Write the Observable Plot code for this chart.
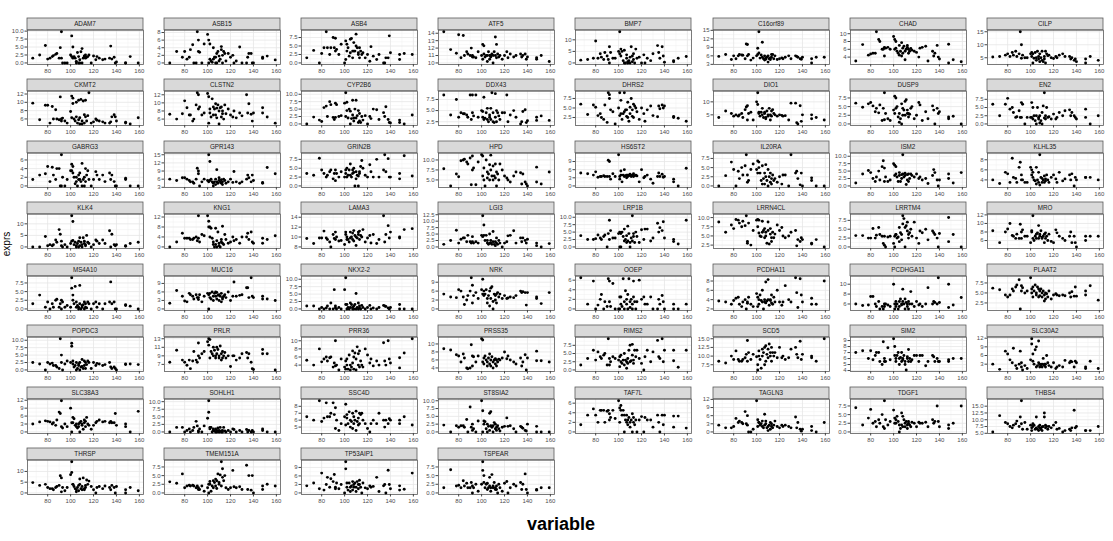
<!DOCTYPE html>
<html><head><meta charset="utf-8">
<script src="https://cdn.jsdelivr.net/npm/d3@7"></script>
<script src="https://cdn.jsdelivr.net/npm/@observablehq/plot@0.6"></script>
<style>
body{margin:0;background:#fff;}
#chart{position:relative;width:1113px;height:541px;overflow:hidden;font-family:"Liberation Sans",Arial,sans-serif;background:#fff;}
#ylab{position:absolute;left:6px;top:244px;transform:translate(-50%,-50%) rotate(-90deg);font-size:10px;color:#000;white-space:nowrap;}
#xlab{position:absolute;left:561px;top:524px;transform:translate(-50%,-50%);font-size:18px;font-weight:bold;color:#000;white-space:nowrap;}
</style></head><body>
<div id="chart"><div id="ylab">exprs</div><div id="xlab">variable</div></div>
<script>
const genes = ["ADAM7","ASB15","ASB4","ATF5","BMP7","C16orf89","CHAD","CILP",
"CKMT2","CLSTN2","CYP2B6","DDX43","DHRS2","DIO1","DUSP9","EN2",
"GABRG3","GPR143","GRIN2B","HPD","HS6ST2","IL20RA","ISM2","KLHL35",
"KLK4","KNG1","LAMA3","LGI3","LRP1B","LRRN4CL","LRRTM4","MRO",
"MS4A10","MUC16","NKX2-2","NRK","OOEP","PCDHA11","PCDHGA11","PLAAT2",
"POPDC3","PRLR","PRR36","PRSS35","RIMS2","SCD5","SIM2","SLC30A2",
"SLC38A3","SOHLH1","SSC4D","ST8SIA2","TAF7L","TAGLN3","TDGF1","THBS4",
"THRSP","TMEM151A","TP53AIP1","TSPEAR"];

const xs = [67,73,78,80,82, 84,85,87,88,90, 91,92,92,93,95, 97,100,101,101,102, 102,103,104,105,105, 106,107,107,108,108, 109,110,110,111,112, 112,113,113,114,115, 116,118,120,122,123, 125,128,130,134,135, 136,138,139,140,148, 148,152,159];

const exprs = [
[1.5,2.5,5.5,1.2,1.5, 2,2.3,2.7,3,1.5, 4.8,9.8,1.5,0,0, 0,2.5,8.5,2,1.5, 5,2,1.5,0.5,0, 3.3,0,2,1,0, 3.5,4.5,0,1.5,2, 2.2,1.5,2.5,1.8,2, 2.5,0,2.2,1,2, 1.5,1,1.2,1.5,5.3, 1.2,1.8,0,0.3,0, 0,2,0],
[0,3,1.5,3,1, 1.5,3.5,4.8,0,0, 8.2,3,6,2.8,0, 5,7.5,6,0,1, 5,0.5,0.2,4,1, 1.5,0,1.5,2.5,0, 3,1.8,0.5,1,3.5, 4.3,2,0,3,2.5, 0.5,2.5,1.5,2,0, 0.5,4.2,0,0,1.5, 2.5,2.5,0,0,1.2, 1.5,1.8,0.8],
[1.5,3.7,0,2.8,4.5, 9.2,4.5,2.5,4.5,7.5, 4.5,7.3,3.5,4,2.5, 5.5,0,6.5,1,3.5, 5.5,4.5,2,7,3, 7.2,1.5,3.5,3.5,6, 3.5,8.5,5,4.5,2.5, 3,4.5,1.5,3.5,2.5, 3,1.5,2.5,0.5,4.8, 2,1,2.5,0,0, 1.5,1.5,8,3,1, 2.5,2.8,2.5],
[14.2,11.8,11.3,13.8,10.7, 13.7,11,11.5,11.2,11, 12,10.8,11,10.8,10.7, 11.5,11,12.5,10.5,12.3, 11.2,10.8,11,11,10.2, 11.5,11,10.5,11,10.8, 11.2,11,10,11.5,13.5, 11,10.7,12.5,11.2,10.8, 11,10.5,11,11.5,10.7, 11.2,10.8,11,11.2,10.8, 11,11.2,10.5,10.8,10.7, 10.5,11,10.2],
[1.2,1.5,2,9.5,2, 4,2.5,1.5,4.5,3, 1.5,7,0,4.5,2, 2,5,13.5,4,6, 3,5,1,5.5,0, 0,2,3.5,0.5,0, 1,2.5,0,7,0.5, 3,1.5,4,0,6, 2,2.5,0,3.5,0, 2,1,4,7.5,4.5, 2,7,3,0.3,0.5, 1,2,2.8],
[5.8,6.5,4.7,6,5, 6,6.5,6.3,6.2,5, 10.2,10,6,6.5,4.5, 5.2,6,8.7,6.5,14.5, 7,5.2,6.3,10.8,5.5, 5,6,4.5,5.2,4.8, 5.5,3.8,6,5,5.3, 4.7,6.5,5.5,6.5,5, 6,4.7,5,5.3,5, 5.5,6,5,6,5.8, 5.5,5,4.8,5.5,3.5, 5,5.5,5.5],
[3,7.2,4.5,4.8,5, 5,10.5,8.5,8,6, 6,6.5,4.3,6.3,6.5, 6,9.3,8.5,6,8, 6.3,5.5,5,7,4.5, 5.5,7.7,4.3,6.3,5, 6.8,3.3,5.5,6,7, 6.5,5,6,5.5,6.2, 5.8,5.5,5.2,4,6.3, 6.5,6.8,3,5.5,4.3, 5,7,4,3.5,7.3, 2.5,3.3,2.8],
[5.3,5.5,6,6.5,5.5, 7,6,7.5,5.5,6.5, 15,10,4.8,6,5, 5,6.5,5.5,7,3, 6.5,4.8,7,5,4, 7.5,4.5,5.5,3.5,6.5, 5,4,7.5,3.5,4.5, 5.5,3,7.5,6.5,5.8, 6,5,4.7,5.5,5, 6,6.5,5.5,5.5,4.5, 5,4,4.5,3.5,4.5, 3,5.5,4],
[9.8,5.8,9.3,9.3,5, 9,6,8.2,6,5.8, 11.3,6,5.5,6.2,5.5, 5,7.8,11.5,6.3,9.7, 11,6,5.5,10,6.5, 5,10.5,5.8,4.8,6.3, 10.7,5.5,4.8,10.3,5, 7,10.5,6.5,5.5,6.8, 12.3,5,5.3,6,5.7, 5.5,5.3,5,5,5.3, 6.5,7,6.5,5.5,5.2, 5,4.8,6.3],
[7.2,6,7.3,10.5,8.8, 7,7,5.5,6,9.5, 12.5,12,8.5,9,7, 7.5,12.3,11.5,5,8.5, 7.5,6.5,11,7,9, 8.5,9.8,7,6.3,8.7, 9.5,8,4.8,8.8,9, 6.5,8,7.3,6,9.5, 7.3,8.5,7,6.5,8, 6.3,7.5,6.8,12,7.5, 9.8,7.2,5.5,7.5,8.8, 7.5,6.5,5],
[0,2.3,1.3,0.8,5.5, 6,2.5,7.5,6.5,2.2, 1.5,7,2.2,6.5,2.5, 2.8,7,10.5,2.5,7.3, 4.5,2,5,4.3,0, 1.8,8,3,1,2, 5,8,2,2.8,0.5, 4.5,1,3.5,0.5,2.5, 1.3,2.8,0,2.5,1.8, 5,4.8,1.5,3.8,2.5, 5.8,1.5,0.5,0.3,1.3, 0.5,0,3],
[8.5,4,7.5,3.5,4.5, 4.3,4.3,4,3.5,8.5, 3,8.5,4.5,3.8,8.5, 3.5,5,3.5,4.8,3, 8,3.3,4.5,3,5.5, 2.5,4,3.5,3,5.5, 9,2.5,4.5,2.3,8.8, 3.5,5,2.5,4.5,3.8, 3,4.5,4.5,8.5,2.5, 4,5,3.5,2,2.5, 4.8,5.2,2.3,2.7,2.8, 3.5,3.8,2.8],
[6,3.3,5.8,5.2,3, 3.5,2.5,2,5.8,1.2, 9,8.5,7.5,4.5,4, 0.8,5,9,3,7, 3.5,2,3.5,9,4, 4.5,2.8,4.5,2.5,6.5, 1.5,5.2,3.5,7.5,2.8, 4.5,6,2.5,5.5,5, 4,2,5,3.5,1.5, 4.5,5.5,3,2.7,5.5, 4.8,5.8,5,5.5,2.8, 2.5,2.3,1.5],
[4,6.5,5.5,4.5,5, 4.5,5,5.5,4,7, 8,3,8.5,5.5,6, 3,10,13.5,9,6, 5.5,4.5,6,7.5,5, 4,6,5.5,4,3.5, 6.5,5,4.5,7.5,5, 3,6.5,4.5,7,5.5, 5,4.5,5,4.8,4.5, 4.7,3,9.5,9.5,2, 1.5,8.5,2.5,5,3.5, 5,4,3],
[6,4.8,5.8,6.2,5.2, 3.5,4.5,3.2,5.5,1, 4.5,9,1.2,3,1.5, 1,4,8,3,7.5, 4.5,5,2,3,0.5, 1.5,5.8,0,4.5,2.5, 4,6.5,2.5,7,3, 4,3,2,2.8,4.5, 5,1.5,2.5,6.2,5.5, 1,3.5,1.5,5.2,4, 0,4.5,3,3.5,1.5, 2,2.2,0],
[6,2.5,6,7.8,4.5, 5,3.5,2,2.2,4, 2,6.5,2,6,0, 2,2,6.5,2,5, 1.5,2.5,1,0,2.5, 5,1.5,2,0.3,2.5, 1,3.5,0,5.5,1.8, 9.5,2.5,1.5,5,2, 2.2,1.5,3,1.5,2, 3.5,2.5,4,4.3,2.5, 3.5,2.5,2,1.5,4.5, 2,0,2.5],
[1.5,2.5,2.8,4.5,1, 4.3,2.5,1.5,4,4, 0,7.2,0,2,0, 1.5,3.5,5,3.5,4.5, 3,2,0.5,1,2, 0,1.5,2.5,1.5,3, 1,5.2,0,1.5,2, 0,1,4,2.5,3.5, 1.5,0,1.5,3.3,2.5, 1.5,2.5,1,3,1.5, 2.5,1,0,0,1.5, 1.8,0,0],
[6,5.5,6.5,6.5,6, 5.5,5,5,4.5,6, 10,9,8,3.5,5, 6,5.5,15,5,12.5, 5.5,6,5,4.5,3.5, 5,4,6,5,9.5, 4.5,5.5,6.5,5,4.5, 5.8,5,4,6,5.5, 4.5,5,6,4.8,8.8, 5,4.5,5,6,7.5, 6.5,5,7.5,5.5,4.5, 4.8,10.3,8],
[3.5,3,7.8,4.5,3.5, 2.5,3,4,4.5,2, 3.5,4.5,1.5,3.5,2.5, 4,2.5,3.5,4.5,2.5, 5,3,4.5,6.2,3, 2.5,4.5,3.5,5,3.8, 0,2,4,3,0, 2.8,3.5,4,5.5,7.2, 5,3,2.5,6,4, 2.5,7.5,2.5,4.5,8.8, 4,7.7,2.5,2.5,3.5, 2,8.5,2.8],
[7.8,3.5,6.5,5.8,9.8, 10,10.2,9.5,9,10.5, 3.8,11,7.5,8,3.8, 9.5,11.3,11,6,8, 5,3.5,10,7,5.5, 6.5,8.8,5,11.2,7.5, 6,8.5,5,6,9, 5.5,3.5,7,6.5,5, 9,7.5,6,5.5,5, 4.5,6,7,6.8,4, 6.5,4.5,4,3.5,8.2, 4.5,4,7],
[4.8,4.5,4,5.2,3.2, 3.5,3.5,3.8,3.5,3.5, 9.5,9,3.5,2.5,4.5, 3.5,11.5,3.5,2.5,5.5, 4,1.5,4,6,3.5, 3.8,4,3,4,3.5, 4,3.8,4.3,3.5,4, 3.8,4.5,3.5,3.8,4, 3.7,1.5,6,3,3.5, 4,2.5,1,3.5,4.8, 3.5,4.3,3.2,3.5,2.5, 1.5,0,6.5],
[0,2.8,6.5,4.5,0, 4,2,5,3,5.5, 8.5,3,1,1.5,4.5, 6,4.5,6.8,3.5,5, 6.5,3.5,1.5,5.5,0.5, 2,3.5,0.5,2.5,5.8, 1.5,0,4.5,2.5,1, 3.5,2,0.5,3,1.5, 2,1,2.5,0.5,3, 3,0,8.5,3.5,4, 2,0.3,3.5,0,2.2, 1.5,0,0],
[1,4,5.2,4.5,2.5, 1.5,3,5,2,6.5, 8.5,1.5,6,3,1.5, 2,7.5,7,3.5,6.5, 4,3,1.5,3.5,4.5, 1.5,3.8,2.5,4,10.5, 3,3.5,4.3,0.5,2, 3.8,4,1.5,2.5,4, 3.5,3,4,2.5,3, 2,2.5,0.8,3.5,5.5, 4.5,2,0,2,4, 2.5,1,4.5],
[4,3.3,5.5,5.2,3.5, 8.3,4.5,4.3,3.5,6.5, 7.5,4,5,4,3.5, 3.5,6.5,6,5,4.5, 5.5,4,3.8,6.5,3.2, 4,3.5,5.5,9,3, 4.5,3.5,4.3,4,3.5, 4.8,3.8,4.2,5,4, 3.5,4.5,5,4.2,3.5, 5.5,3.8,4.2,5,4, 5.2,2.8,4.5,4,4.5, 4.5,4.5,4],
[0,0,4.5,0.5,1, 0.5,1,3,2,7.5, 5.5,0.5,2.5,0,1, 0,1.5,13.5,2.5,11, 2.8,1,2,0,0.5, 1.5,2.5,0,0.5,4, 2,1,0,4,1.5, 2.5,0.5,1,5,2, 1.5,0,1,3,2.5, 1.5,3,1.5,7,0, 5.5,1,0.5,1,0.5, 0.3,1.5,2],
[0,2,5.5,3.5,3.5, 3.5,3,3,3.5,4, 2.5,12.5,3.5,2,5, 4.5,12.5,10.3,8,8, 4,7.5,3.5,2,1, 0,7.5,1,0,2.5, 6,0.5,1.5,0,2, 3,1.5,8.3,1,5, 3,1.5,2,4,2.5, 3,1.5,4,4,5.5, 3,6,2,1.5,3.5, 1.5,3,4.5],
[9.7,8.7,9.8,9.8,11.2, 9.8,9.5,9,8,10.5, 9.7,11,9.5,10,9.2, 9.3,8.5,10.5,11,9.5, 10,9.5,9,11,9.8, 10,10.8,9.5,9.2,11.3, 10.3,10,8.3,9.8,11, 10.5,9.5,11.2,10.3,10, 11.5,9,9.8,10.3,8.8, 10.5,8.7,9.5,14.3,9, 10.5,12.3,9.8,11,10, 9.8,11.5,11.7],
[1,2.5,6.5,1.5,3, 3.5,3.5,2,4.5,2, 1.5,2,4,1.5,2, 1.5,4.5,12.1,4,8.5, 4.5,2.5,4.5,2.5,1.5, 1,1.5,5,2.5,1.5, 1,6,2,1,0.5, 2,1.5,3.5,1,2.5, 1.5,0,1.5,2,4.3, 4.5,6.3,1.5,3.5,2, 3.5,2.5,1.5,3,0.5, 1.5,0,1.3],
[3.8,2.5,2.5,2.8,4, 3,2.5,3.5,4,0, 4.5,9,2.5,5.5,3, 3,4.5,0,5,0, 4.5,5,3.5,6,2, 2.5,3.8,1.5,2,7, 4.5,1.5,0,3,10.5, 2,4.5,3.5,1.5,5, 3.5,1.5,5.8,2.5,6, 6,2,3,8,5, 6.5,5.5,8.5,3,2.5, 1.8,1,9],
[8.8,6,8,7,9.5, 9.3,8.5,7.5,9,7.8, 10.5,3.5,3,8.5,2.5, 6.5,9.3,9.5,7.5,5.8, 9.3,5,4.8,9,6, 6.5,4.5,7,5,6, 3,8.8,6.5,2.8,5.5, 7,4.5,3.5,6,4.5, 5.5,8,6.5,7.3,5, 4.5,5,6,6.5,2.3, 4,3.5,4.5,4,3, 2.8,4,2],
[3.2,3.2,2.5,2.5,5.2, 2.5,3.3,5.5,3.5,3, 1,0.5,3,0,2.8, 3,1,0,3,3.5, 3.5,2.5,2.8,5.5,1.5, 4,3.5,2,6.5,8.8, 8,5.5,0,6,4.5, 7,2.5,3.5,4,5, 3,7,2.5,1,4.5, 4,5,2,4.5,4, 3.5,2.5,0,3.8,8.3, 1.5,3.5,0],
[8.3,5.5,8,8.7,10, 7.2,7,6.5,7.5,6.5, 9.8,8,6.5,8.5,7, 7,5.5,8.3,8,6.5, 11.8,6,7,7.5,6.5, 7.8,6.5,9.5,7,7.5, 8.3,6.5,6.8,7,7.5, 5.5,7.8,6.5,7,6, 7.5,5.8,5.5,8.5,7.8, 7,6.5,6,7,8, 5.5,7,5.5,4.5,7, 6,7,7],
[1.5,4,0.5,2,0, 1.5,0.5,2.5,2.8,0.5, 1.5,2.5,0,2,0.5, 1,0.5,9,6,2.5, 4,1.5,6.5,0.5,2, 1,0.5,0,6.8,1.5, 0,1,0.5,1.2,0, 2,0.5,1.5,0.3,2, 1.5,0,1.5,2,0.5, 1.5,0,1.5,2,7.8, 1.5,2,0,0,1.2, 1,0.8,0],
[2,6.5,4.5,2.8,2.5, 5.5,5,4.5,3.5,5, 4,4,3.3,5,2.5, 4.5,5.5,5,0,4, 5.5,3.5,6,4.5,3, 5.5,6,4.5,3.5,5.8, 4.8,5,3,4.5,2.5, 5.5,4,3.5,4.5,5, 4,6,3,4.5,9.5, 4.5,4.8,5,7.5,7.5, 4,11,4.5,4,4.5, 3.5,3.5,3],
[1,1,0,0.5,0, 0.3,1,0,2,0, 6.5,0.3,1,0,0.5, 0,6.5,10.5,1.5,0, 1.5,0.5,0,2,0.5, 1.5,0,0.5,1,0, 1.5,0,5.2,0.5,2, 0,1,0.3,0,1.2, 0.5,0,0.5,1.2,0, 0.3,0,0.5,1.2,1, 0.8,0.3,0,0.5,1.5, 0,0,0],
[5,4,3.8,6.5,6, 4,1.5,3,4.5,6, 10.5,8,2,4.5,5.5, 3.5,6.5,10,5,4.5, 6,5,6.5,3.5,2, 4.5,1,6,7,3.5, 7.5,0,2.5,5,4.5, 3,5,2,5.5,4, 5,3.5,4.5,3.5,3.7, 4,3.8,4.5,6,5.5, 5.8,5.5,1.3,5.5,4, 3.5,1.8,5.5],
[6.5,1,5.8,0,0.8, 2,3,0,1.5,0.5, 6.3,1.5,5.8,0.5,5.3, 0,0,2.5,0,2.5, 1,0.5,6.3,1.5,0, 3.8,1,2,0,3, 6.3,1.5,0.3,2,0, 1,5.8,2.5,1.5,0, 1.5,6,2,2.5,1, 1,2.5,0,0,2, 1,2.8,1.5,0,1, 0,0,1],
[3.7,3.5,3,3.8,4.3, 4.5,3,2.5,3.5,4, 2,3.5,3.2,4.5,3, 2.5,5.3,4.5,2.5,3, 4,5,3.8,6,3.5, 2,3.5,4,7.8,3.3, 3.7,8.3,4,2.8,4, 3.8,5,3.3,3,4.5, 3.5,6,3.5,2.8,3.5, 7,4,3.5,8.7,5.5, 2.3,8.5,5,3.5,4.3, 3,3,8],
[6,5.7,5.8,7.5,7.5, 6,5.5,6.5,5,5.5, 5,6,5.5,6,5.8, 5.5,10,6,5,5.5, 6.5,6,5,6.5,5.5, 7,6,5.8,9,6.5, 6,7,5,6.3,6, 5.5,6.5,5,6,8.5, 6,5.5,6.5,5.8,6, 5.5,6,9.3,6,6.5, 6.3,6,11.3,6.3,10, 5.3,5.8,7.3],
[6.2,5.8,4.5,4,4.5, 6,5.5,6.5,7,8.3, 1,6.8,5.5,6.3,5, 5.5,8.8,6,5,4, 6.5,5.5,7,4.5,5, 6.5,4,6,5.5,4.3, 6,5,4,5.5,3, 4.5,5,3.5,4.8,4, 5.5,3.5,4.5,4.8,4.5, 4.3,4.5,4.3,5,4, 5.3,4.2,6.5,4.2,5.5, 4.5,6.8,3.2],
[2.5,2,0,2.5,2, 2.3,1.5,1.5,1,0.5, 10.5,5,2.5,0,2, 3,2.5,8,9,2, 3,1,1.5,2.5,0, 0.5,1.5,2,0,2.5, 1,3.5,1.2,0.5,3, 1.5,2.5,0.5,1.8,3, 2.5,0.5,2.5,1.5,2.2, 2,1.5,1.8,2.5,1, 0.5,1,0.5,0,1.8, 2,2,1.8],
[7.5,10.3,8,7.5,6.8, 8,6,7.8,10,8, 7.5,12,9,8.5,9.5, 10,12.3,13,11.5,8.5, 12.8,10,9.5,9,11, 10.3,9,8.5,11,9.5, 10.5,9,8.5,11.3,8, 9.5,10,8.5,9,9.8, 8.5,9,6.5,9,9, 8,8.5,9.5,9.8,8.5, 9.5,7.5,6,5.8,10.5, 9.5,9.5,5.7],
[5.2,4,8,4.8,5.5, 6,5,5.8,6,3.5, 4.5,10,3.8,4,2.8, 5.5,3.5,5,3,5.5, 4,3,6.5,2.8,4, 3.5,7.5,4.5,3,6, 7,2.8,5.5,8.5,4, 6.8,3.5,7.5,5,4, 3.5,8,6.5,4.5,5.5, 3.8,5,4,9.5,5, 4,10,5.5,4.5,5.8, 3.3,7,10.5],
[8.8,8.5,7.3,7,5.5, 7.5,6.5,4,3.8,4, 9.8,7,4.5,6.8,5.5, 7,11.3,11,5.5,6.5, 5,7,6,4.5,5.5, 6.5,7.5,5,6,4.5, 6.8,5.5,4,6,5, 6.3,4.5,6,5.5,6.2, 6,6.5,8,6.3,7, 6,5.5,5,6.5,4.5, 5.5,7.3,3.5,6.5,8.2, 5.8,5.8,5.5],
[1.5,3.5,6,3,5.5, 4,3.5,4.5,5,1.5, 9.5,1.5,3.5,2.5,4, 3.5,3,1,4,2.5, 4.5,2,3,5,1.5, 3,2.5,0.5,2,3.5, 6,2.5,7.5,2.8,7.8, 4.5,3,2,6,4, 6,3.5,2,0,4, 6,2.5,5.5,9,4, 3.5,9.5,2.5,6,2.8, 6,0.8,6],
[8.5,8,10,9,11.5, 9,8.5,8.5,9,9.5, 10.5,14.5,8.5,11,9, 10.5,9.8,7.5,6,11.5, 10,9,6.5,12,10, 11,7.5,12.5,8.5,13, 10.5,12,9.5,13.5,11, 10,12.5,8.5,11,10, 11,9.5,12.5,9.5,10, 9,9.5,12,12.5,10.5, 9.5,14.3,9,10.5,10, 9.5,8.5,15],
[7,7.3,6,7.3,5.8, 6.5,7,7,5.5,5, 8.8,5.5,6,5.5,7.8, 5.8,9.3,6.5,8,6, 5.5,6.5,7,5,6, 6.2,5.5,7,6,5.8, 6.5,5.5,5,4.1,6, 6.3,5.5,7.5,6,5.5, 5.8,6.5,6.5,5.5,6.5, 6.5,4.8,5.5,6.5,6.3, 5.5,6,5.5,5.5,5.8, 5.5,6,6],
[3,1.2,7.5,6.5,4.5, 3.5,8.5,2.5,1.5,3, 7.5,3.5,2,1,2.5, 1.5,4.5,10,11.8,6.5, 4,3,8,9,2, 2.5,3.5,11,3,2, 2.5,3,2,5,3, 2.5,3,2,6,3.5, 2.5,2,3.5,1.5,2, 2.5,2,4.3,3.5,4, 3.8,2,4,3.5,1.5, 2,4,1.5],
[3,3.8,4.2,4,3.8, 3,3.5,2.5,4.5,7.5, 7,11.8,2,1.5,3, 2,9,3.5,0,5.5, 3.5,5,2.5,3,2, 1.5,3,2,0,3.5, 4,2.5,3,1,4.5, 3.5,2,4,5.5,3, 2.5,1,2.5,3.5,4, 4.5,3.8,4,3.5,4, 3.5,3.5,7,2.5,2, 3,0,7.8],
[0,1.5,1.5,0,0.5, 1,0,0.5,1.5,3.5, 2,0,0.3,1,0, 2,4.5,10.3,6.5,1.5, 1,1.5,0,0.5,1, 0.3,0,1,0.5,0, 1.3,0,0.5,1.5,0, 0.3,0.5,0,1.5,0.3, 0,0.5,0,1,0.8, 0,0.5,0,0.8,0, 0.5,0,0.5,0,1, 0.5,0,0],
[6.5,6,8.8,5.8,6.3, 8.5,6.5,6.5,7,8.5, 6.8,7.8,4.8,6,4.5, 5.5,6.5,8.3,5.3,6.8, 6.3,5.5,7.2,6,5, 5.8,7,4.8,6.5,5.5, 6,7.3,4.5,5.8,6.3, 5.3,7,5.5,6.8,7, 6,5.5,4.8,4.3,5.5, 6,5.5,7,6,5, 6,5.5,6.2,6,5.5, 6,6.5,5.3],
[2.2,0,2,1.5,2, 2,1.5,4,0,8, 1.5,2.5,0.5,1,0, 3.5,10,6.8,0,3.5, 2.5,3.3,1,0,2.5, 1.8,0.5,6,2,6.5, 1.5,0,2,3,1, 2.5,0.5,1.5,2,1, 0.3,1.5,1.8,4.5,1.8, 2,1,0,1.8,1.5, 1.2,0.5,0.3,2.5,1.8, 0,0,0],
[1.5,3.5,4.8,3.5,2, 4.5,4.5,4.5,2,4.3, 4.5,2.5,3.8,3,4.5, 2.8,6.5,5,2,5.5, 4.5,3.5,4.5,0,3.5, 2.5,2,3.5,1.5,2.5, 3,2,1,2.5,3.8, 0,2,3,1.5,2.5, 0,2.5,3.2,0,3, 2.5,2.5,1,3.5,2, 0,3.5,1.5,3.5,1, 3.3,3.3,0.8],
[2.5,1.5,1.5,2,5, 3.5,4,3.5,3,7.5, 3,6,2.5,0,0, 1,11.5,4.5,2,3.5, 3.5,2.5,3,4,2, 1.5,2.5,6.5,4,3, 1.5,2,0.5,2.5,3.5, 1,2,3,1.5,2.5, 4,2,1.5,2.5,2, 2.5,2,1.5,5.5,1.5, 3.5,1,0.3,1,2, 0.5,0,3.5],
[7,2,4,6.5,2.5, 3,1.5,3.5,2.5,5, 1.5,9,1,3.5,2, 3,6.3,4,2.5,3.5, 2.5,4.5,3,2,0, 1,5.5,2,4.5,1.5, 3.5,2.5,1.5,3,2, 1,2.5,3,2,1.5, 2.8,2.5,1.5,2.8,2.5, 2.5,2.8,1.5,3.5,2.5, 3,7.5,3,1.5,2, 1,2.5,7.5],
[5.5,11.5,9,8.5,7.5, 7,8,8.5,9.5,7.5, 11,17,8.5,6.5,9, 6.5,8,7,6,8.5, 7.5,8,6.5,11,7, 6.5,7.5,6,8,7, 6.5,7.3,6,7.5,12.5, 11,7,8,7.5,6.5, 7.5,7,8,9,6.5, 6.8,5.5,6,6.5,6, 7,13.5,7,7.5,6, 6,6,7.5],
[4.8,3.5,4,2.5,2, 2,1.5,2.5,3,3.5, 8,7,0.5,2.5,1, 2.5,8.5,9.5,14.5,4, 4,3,2,1.5,0.5, 2.5,3.5,1,4,6.5, 2,3,1.5,7,2, 1.5,2.5,3.5,6,4, 5.5,3,1.5,0,2.5, 3,2,3.2,2.5,1.5, 3.5,2.5,0,3,1.5, 0,2.5,1],
[3.2,2.8,5.5,1.5,2, 2.2,2,2.2,2,1.5, 2,1,1.5,1,2, 0.5,1.5,2.5,0,3.3, 2.5,0.5,2,3.5,1.5, 3,4,2,3.5,1.3, 5.5,2.5,3,5.2,9, 2,4.5,7,3.5,5, 1.5,1,1.5,6.5,1.8, 1.5,1.8,1,8,1, 5,0.8,5,0,2, 1,2.5,2],
[2.5,3.5,1.5,7,1, 3,5.5,2,5,4, 6.5,1.5,2,3.5,1.5, 3,0,11,8.5,2, 3.5,1,3.5,2,0.5, 2.5,4,1,3,2, 3.5,2,0.5,4,3, 1.5,3,4.5,2,0, 3.5,1.8,1.5,2.5,2, 2.3,5.5,0.5,2.5,3, 0,8,3,1.5,2.5, 1,1.3,7],
[1.5,6.7,2,2.2,1.5, 3.5,2,2.8,1.5,1.5, 3,0,2,1.5,2.5, 0.5,2.5,9,6.5,3, 5,1.5,2.5,2.8,1, 1.5,4.5,2,1.5,0.5, 5.3,2,1.5,3,1, 1.5,2,1,0,2.5, 1.5,0.5,2.8,3.3,0, 1.5,2.5,2,3,1, 2.5,5.5,1,0,0.8, 1,1.5,1.5]
];

const yTicks = [
[0,2.5,5,7.5,10],[0,2,4,6,8],[0,2.5,5,7.5],[10,11,12,13,14],[0,5,10],[3,6,9,12,15],[4,6,8,10],[5,10,15],
[6,8,10,12],[6,8,10,12],[0,2.5,5,7.5,10],[2.5,5,7.5],[2.5,5,7.5],[5,10],[0,2.5,5,7.5],[0,2.5,5,7.5],
[0,2,4,6],[3,6,9,12,15],[0,2.5,5,7.5],[5,7.5,10],[0,3,6,9],[0,2.5,5,7.5],[0,2.5,5,7.5,10],[4,6,8],
[0,5,10],[0,4,8,12],[8,10,12,14],[0,2.5,5,7.5,10,12.5],[0,2.5,5,7.5,10],[2.5,5,7.5,10],[0,2.5,5,7.5],[6,8,10,12],
[0,2.5,5,7.5],[0,3,6,9],[0,2.5,5,7.5,10],[0,3,6,9],[0,2,4,6],[2,4,6,8],[6,8,10],[2.5,5,7.5],
[0,2.5,5,7.5,10],[7,9,11,13],[4,6,8,10],[4,6,8,10],[0,2.5,5,7.5],[7.5,10,12.5,15],[4,5,6,7,8,9],[3,6,9,12],
[0,3,6,9,12],[0,2.5,5,7.5,10],[5,6,7,8],[0,2.5,5,7.5,10],[0,2,4,6],[0,3,6,9,12],[0,2.5,5,7.5],[5,7.5,10,12.5,15],
[0,5,10],[0,2.5,5,7.5],[0,3,6,9],[0,2.5,5,7.5]
];

const xTicks = [80,100,120,140,160];
const xMinor = [70,90,110,130,150];

const nCol = 8, colW = 137.1, rowH = 61.43;
const mL = 27, pW = 116, mR = 2, mT = 29.7, pH = 34.3, mB = 14, stripTop = 18;
const xr = d3.extent(xs), xpad = (xr[1]-xr[0])*0.05;
const xDomain = [xr[0]-xpad, xr[1]+xpad];
const chart = document.getElementById("chart");

genes.forEach((g, i) => {
  const ys = exprs[i];
  const data = ys.map((y, j) => ({x: xs[Math.min(j, xs.length-1)], y}));
  const ext = d3.extent(ys), pad = (ext[1]-ext[0])*0.05;
  const yDomain = [ext[0]-pad, ext[1]+pad];
  const inY = v => v >= yDomain[0] && v <= yDomain[1];
  const ticks = yTicks[i].filter(inY);
  const step = yTicks[i][1]-yTicks[i][0];
  const minorY = yTicks[i].map(t => t - step/2).concat([yTicks[i][yTicks[i].length-1] + step/2]).filter(inY);
  const dec = yTicks[i].some(t => !Number.isInteger(t));
  const fmt = t => dec ? t.toFixed(1) : String(t);
  const svg = Plot.plot({
    width: mL+pW+mR, height: mT+pH+mB,
    marginLeft: mL, marginRight: mR, marginTop: mT, marginBottom: mB,
    x: {domain: xDomain},
    y: {domain: yDomain},
    style: {background: "transparent", overflow: "visible", fontFamily: "'Liberation Sans', Arial, sans-serif", color: "#4d4d4d"},
    marks: [
      Plot.ruleX(xMinor, {stroke: "#f1f1f1", strokeWidth: 0.5}),
      Plot.ruleY(minorY, {stroke: "#f1f1f1", strokeWidth: 0.5}),
      Plot.ruleX(xTicks, {stroke: "#e6e6e6", strokeWidth: 0.8}),
      Plot.ruleY(ticks, {stroke: "#e6e6e6", strokeWidth: 0.8}),
      Plot.frame({stroke: "#5a5a5a", strokeWidth: 0.8}),
      Plot.dot(data, {x: "x", y: "y", r: 1.45, fill: "#000", stroke: "none"}),
      Plot.axisX(xTicks, {tickSize: 2.5, tickPadding: 1.5, fontSize: 6, label: null, stroke: "#444"}),
      Plot.axisY(ticks, {tickSize: 2.5, tickPadding: 1.5, fontSize: 6, label: null, tickFormat: fmt, stroke: "#444"})
    ]
  });
  const s = d3.select(svg);
  s.append("rect").attr("x", mL).attr("y", stripTop).attr("width", pW).attr("height", mT-stripTop)
    .attr("fill", "#d9d9d9").attr("stroke", "#5a5a5a").attr("stroke-width", 0.8);
  s.append("text").attr("x", mL+pW/2).attr("y", (stripTop+mT)/2).attr("dy", "0.35em")
    .attr("text-anchor", "middle").attr("font-size", 6.3).attr("fill", "#1a1a1a").text(g);
  svg.style.position = "absolute";
  svg.style.left = ((i % nCol) * colW) + "px";
  svg.style.top = (Math.floor(i / nCol) * rowH) + "px";
  chart.appendChild(svg);
});
</script>
</body></html>
